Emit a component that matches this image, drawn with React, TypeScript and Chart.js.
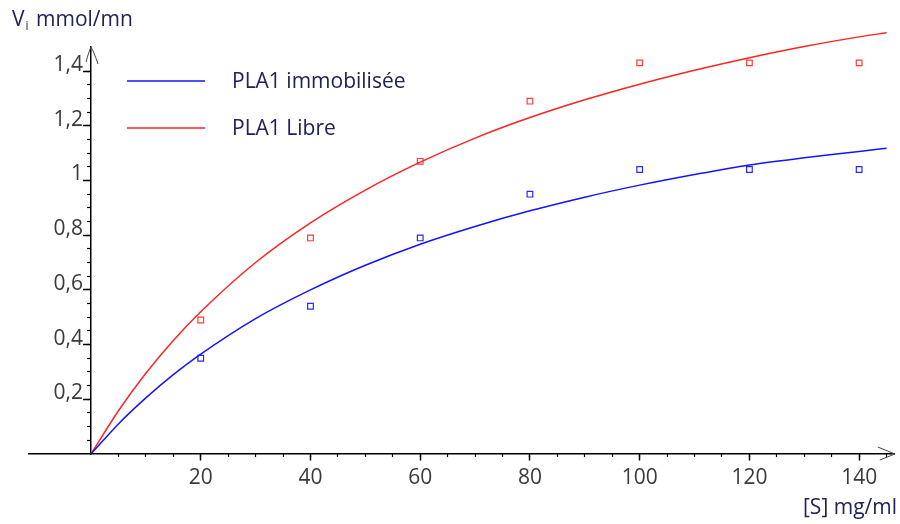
import { useEffect, useRef } from 'react';
import { Chart, registerables } from 'chart.js';

Chart.register(...registerables);

// Measured initial velocities (mmol/mn) against substrate concentration (mg/ml)
const substrate = [20, 40, 60, 80, 100, 120, 140];
const vImmobilised = [0.35, 0.54, 0.79, 0.95, 1.04, 1.04, 1.04];
const vFree = [0.49, 0.79, 1.07, 1.29, 1.43, 1.43, 1.43];

// Fitted saturation curves
const fitS = [0, 5, 10, 15, 20, 30, 40, 50, 60, 70, 80, 90, 100, 110, 120, 130, 140, 145];
const fitImmobilised = [0, 0.11, 0.205, 0.29, 0.365, 0.495, 0.6, 0.69, 0.767, 0.832, 0.889, 0.939, 0.983, 1.022, 1.057, 1.083, 1.106, 1.118];
const fitFree = [0, 0.158, 0.295, 0.415, 0.52, 0.7, 0.845, 0.965, 1.067, 1.155, 1.23, 1.295, 1.352, 1.403, 1.449, 1.49, 1.525, 1.54];

// Axis ticks
const xTicks = [20, 40, 60, 80, 100, 120, 140];
const xTickLabels = ['20', '40', '60', '80', '100', '120', '140'];
const yTicks = [0.2, 0.4, 0.6, 0.8, 1, 1.2, 1.4];
const yTickLabels = ['0,2', '0,4', '0,6', '0,8', '1', '1,2', '1,4'];
const xRange = [-11.3, 146.5];
const yRange = [0, 1.488];

const seriesNames = ['PLA1 immobilisée', 'PLA1 Libre'];
const blue = 'rgb(20, 20, 255)';
const red = 'rgb(255, 35, 35)';

const FONT = '"Open Sans", "Liberation Sans", sans-serif';
const TICK_COLOR = '#3a3a3a';
const TITLE_COLOR = '#22225a';

const pts = (xs: number[], ys: number[]) => xs.map((x, i) => ({ x, y: ys[i] }));

const decorations = {
  id: 'decorations',
  afterDraw(chart: any) {
    const { ctx, chartArea, scales } = chart;
    const x0 = scales.x.getPixelForValue(0);
    const yBase = scales.y.getPixelForValue(0);
    const top = chartArea.top;
    const right = chartArea.right;
    ctx.save();

    // arrow heads at the ends of both axes
    ctx.strokeStyle = '#444';
    ctx.lineWidth = 1;
    ctx.beginPath();
    ctx.moveTo(x0 - 5, top + 15);
    ctx.quadraticCurveTo(x0 - 2, top + 4, x0, top);
    ctx.quadraticCurveTo(x0 + 3, top + 5, x0 + 7, top + 17);
    ctx.stroke();
    ctx.beginPath();
    ctx.moveTo(right - 17, yBase - 7);
    ctx.lineTo(right, yBase);
    ctx.lineTo(right - 15, yBase + 6);
    ctx.stroke();

    // legend
    const ds = chart.data.datasets;
    const rows = [81, 128];
    rows.forEach((y, i) => {
      ctx.strokeStyle = ds[i].borderColor;
      ctx.lineWidth = 1.5;
      ctx.beginPath();
      ctx.moveTo(127, y);
      ctx.lineTo(205, y);
      ctx.stroke();
      ctx.fillStyle = TITLE_COLOR;
      ctx.font = `21px ${FONT}`;
      ctx.textBaseline = 'middle';
      ctx.textAlign = 'left';
      ctx.fillText(ds[i].label, 232, y + 1);
    });

    // axis titles
    ctx.fillStyle = TITLE_COLOR;
    ctx.textBaseline = 'alphabetic';
    ctx.textAlign = 'left';
    ctx.font = `21px ${FONT}`;
    ctx.fillText('V', 12, 26);
    const vw = ctx.measureText('V').width;
    ctx.font = `12px ${FONT}`;
    ctx.fillText('i', 13 + vw, 30);
    ctx.font = `21px ${FONT}`;
    ctx.fillText('mmol/mn', 36, 26);

    ctx.textAlign = 'right';
    ctx.fillText('[S] mg/ml', 897, 514);
    ctx.restore();
  },
};

export default function App() {
  const canvasRef = useRef<HTMLCanvasElement | null>(null);

  useEffect(() => {
    const canvas = canvasRef.current;
    if (!canvas) return;
    const tickFont = { family: FONT, size: 21 };
    const noFit = (s: any) => { s.width = s.isHorizontal() ? s.width : 0; s.height = s.isHorizontal() ? 0 : s.height; };
    const hidden = 'rgba(0,0,0,0)';

    const chart = new Chart(canvas, {
      type: 'line',
      data: {
        datasets: [
          {
            label: seriesNames[0],
            data: pts(fitS, fitImmobilised),
            borderColor: blue,
            borderWidth: 1.5,
            pointRadius: 0,
            cubicInterpolationMode: 'monotone',
            fill: false,
            clip: false,
          },
          {
            label: seriesNames[1],
            data: pts(fitS, fitFree),
            borderColor: red,
            borderWidth: 1.5,
            pointRadius: 0,
            cubicInterpolationMode: 'monotone',
            fill: false,
            clip: false,
          },
          {
            label: seriesNames[0] + ' (mesures)',
            data: pts(substrate, vImmobilised),
            showLine: false,
            pointStyle: 'rect',
            pointRadius: 4,
            pointBorderWidth: 1.2,
            borderColor: 'rgb(40, 40, 255)',
            backgroundColor: 'rgba(255,255,255,0)',
            clip: false,
          },
          {
            label: seriesNames[1] + ' (mesures)',
            data: pts(substrate, vFree),
            showLine: false,
            pointStyle: 'rect',
            pointRadius: 4,
            pointBorderWidth: 1.2,
            borderColor: 'rgb(255, 60, 60)',
            backgroundColor: 'rgba(255,255,255,0)',
            clip: false,
          },
        ],
      } as any,
      options: {
        animation: false,
        responsive: false,
        devicePixelRatio: 1,
        layout: { padding: { left: 29, right: 3, top: 47, bottom: 70 } },
        plugins: { legend: { display: false }, tooltip: { enabled: false } },
        scales: {
          // main x axis: line, major ticks and labels, drawn along y = 0
          x: {
            type: 'linear',
            axis: 'x',
            min: xRange[0],
            max: xRange[1],
            position: { y: 0 },
            afterFit: noFit,
            afterBuildTicks: (s: any) => { s.ticks = xTicks.map((value) => ({ value })); },
            grid: { drawOnChartArea: false, drawTicks: true, tickLength: 6, tickColor: '#000', tickWidth: 1.5 },
            border: { display: true, color: '#000', width: 1.5 },
            ticks: {
              autoSkip: false,
              maxRotation: 0,
              padding: 5,
              font: tickFont,
              color: TICK_COLOR,
              callback: (v: any) => xTickLabels[xTicks.indexOf(Number(v))] ?? '',
            },
          },
          // minor x ticks every 5 mg/ml
          xMinor: {
            type: 'linear',
            axis: 'x',
            min: xRange[0],
            max: xRange[1],
            position: { y: 0 },
            afterFit: noFit,
            grid: {
              drawOnChartArea: false,
              drawTicks: true,
              tickLength: 3,
              tickWidth: 1.2,
              tickColor: (c: any) => (c.tick && c.tick.value > 0.1 ? '#000' : hidden),
            },
            border: { display: false },
            ticks: { stepSize: 5, includeBounds: false, autoSkip: false, maxTicksLimit: 100, callback: () => '' },
          },
          // main y axis: line and major ticks, drawn along x = 0
          y: {
            type: 'linear',
            axis: 'y',
            min: yRange[0],
            max: yRange[1],
            position: { x: 0 },
            afterFit: noFit,
            afterBuildTicks: (s: any) => { s.ticks = yTicks.map((value) => ({ value })); },
            grid: { drawOnChartArea: false, drawTicks: true, tickLength: 7, tickColor: '#000', tickWidth: 1.5 },
            border: { display: true, color: '#000', width: 1.5 },
            ticks: { display: false },
          },
          // y tick labels, set just left of the tick marks
          yLabels: {
            type: 'linear',
            axis: 'y',
            min: yRange[0],
            max: yRange[1],
            position: { x: -1.45 },
            afterFit: noFit,
            afterBuildTicks: (s: any) => { s.ticks = yTicks.map((value) => ({ value })); },
            grid: { display: false, drawOnChartArea: false, drawTicks: false },
            border: { display: false },
            ticks: {
              autoSkip: false,
              padding: 0,
              labelOffset: -6,
              font: tickFont,
              color: TICK_COLOR,
              callback: (v: any) => {
                const i = yTicks.findIndex((t) => Math.abs(t - Number(v)) < 1e-6);
                return i >= 0 ? yTickLabels[i] : '';
              },
            },
          },
          // minor y ticks every 0.05
          yMinor: {
            type: 'linear',
            axis: 'y',
            min: yRange[0],
            max: yRange[1],
            position: { x: 0 },
            afterFit: noFit,
            grid: {
              drawOnChartArea: false,
              drawTicks: true,
              tickLength: 4,
              tickWidth: 1.2,
              tickColor: (c: any) =>
                c.tick && c.tick.value > 0.01 && c.tick.value < 1.41 ? '#000' : hidden,
            },
            border: { display: false },
            ticks: { stepSize: 0.05, includeBounds: false, autoSkip: false, maxTicksLimit: 100, callback: () => '' },
          },
        },
      } as any,
      plugins: [decorations],
    });

    return () => chart.destroy();
  }, []);

  return (
    <div style={{ position: 'fixed', left: 0, top: 0, width: 900, height: 524, background: '#fff' }}>
      <canvas ref={canvasRef} width={900} height={524} style={{ display: 'block' }} />
    </div>
  );
}
